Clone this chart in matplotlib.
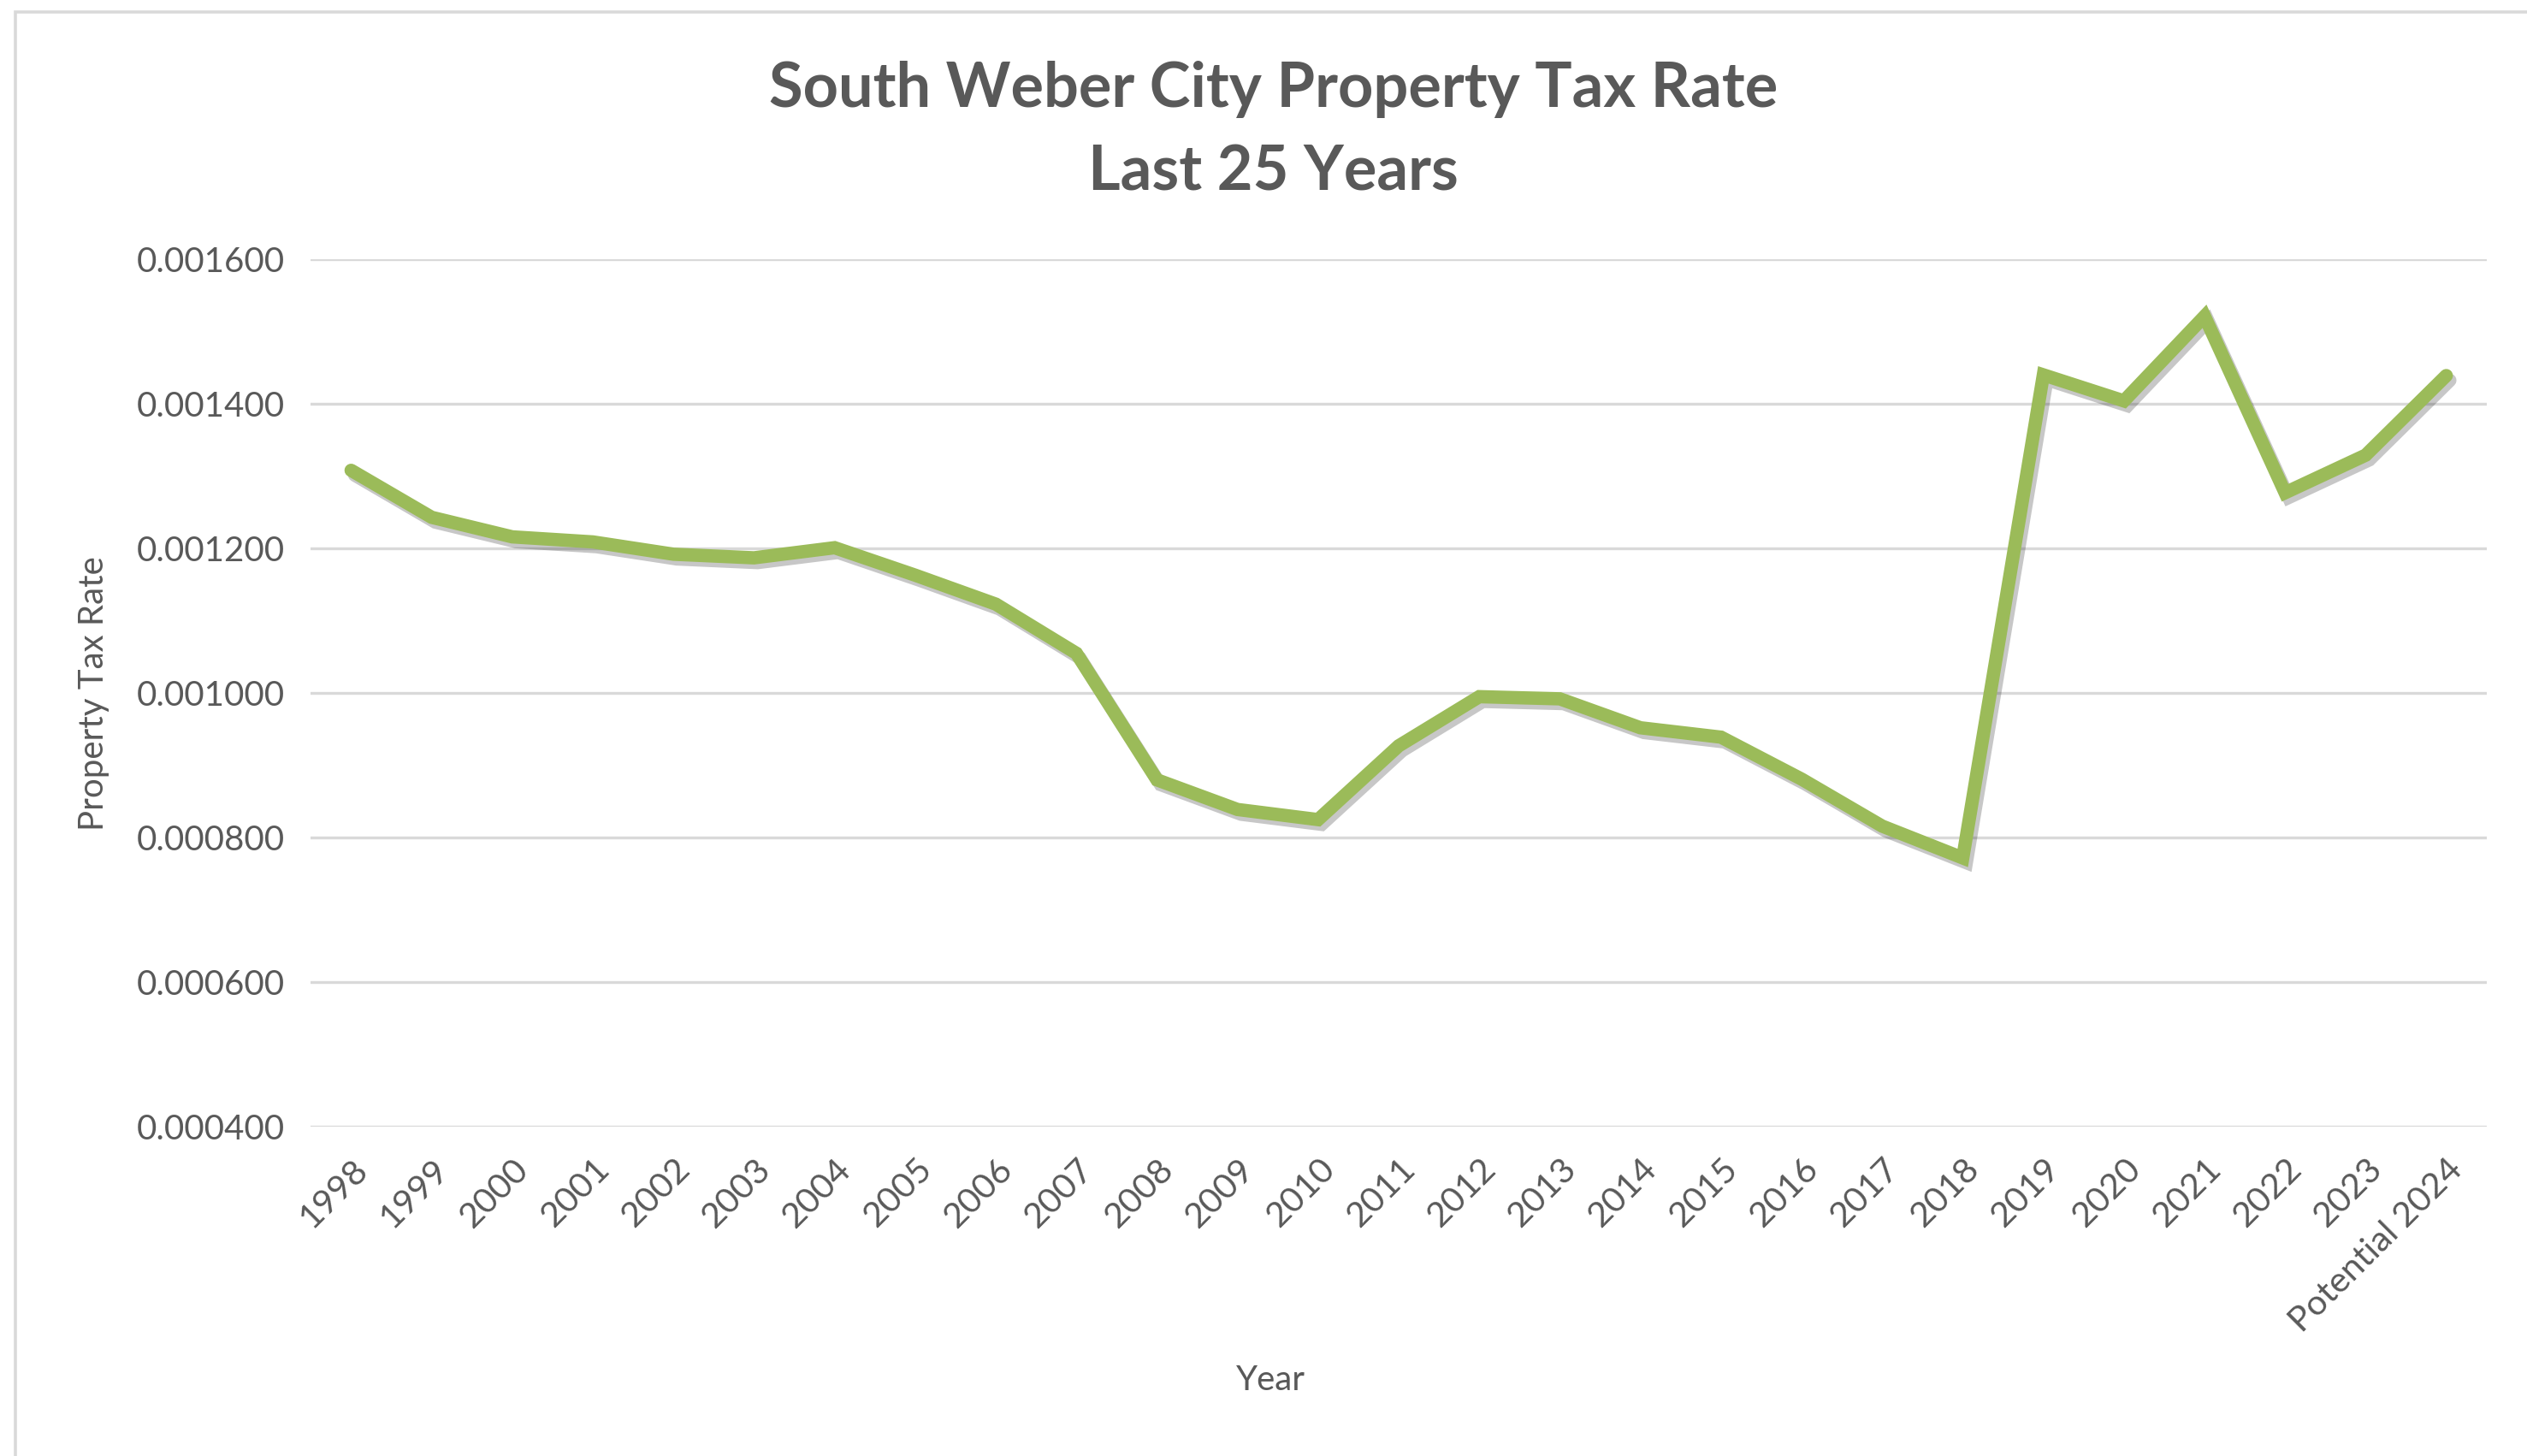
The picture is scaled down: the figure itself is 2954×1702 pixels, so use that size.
import numpy as np
import matplotlib.pyplot as plt
import matplotlib.patheffects as pe
from matplotlib.patches import Rectangle

# Data
years = ["1998", "1999", "2000", "2001", "2002", "2003", "2004", "2005", "2006",
         "2007", "2008", "2009", "2010", "2011", "2012", "2013", "2014", "2015",
         "2016", "2017", "2018", "2019", "2020", "2021", "2022", "2023",
         "Potential 2024"]
rates = [0.001308, 0.001243, 0.001216, 0.001209, 0.001192, 0.001187, 0.001201,
         0.001163, 0.001123, 0.001055, 0.000880, 0.000839, 0.000825, 0.000927,
         0.000995, 0.000992, 0.000952, 0.000939, 0.000881, 0.000816, 0.000772,
         0.001440, 0.001404, 0.001521, 0.001277, 0.001329, 0.001439]
yticks = [0.0004, 0.0006, 0.0008, 0.0010, 0.0012, 0.0014, 0.0016]

plt.rcParams['font.family'] = ['Lato', 'DejaVu Sans']
grey = "#595959"

fig = plt.figure(figsize=(14.77, 8.51), dpi=200)
fig.patches.append(Rectangle((0.006, -0.05), 1.2, 1.042, transform=fig.transFigure,
                             fill=False, edgecolor="#D9D9D9", linewidth=1.3))

ax = fig.add_axes([0.123, 0.226, 0.861, 0.596])
x = np.arange(len(years))
ax.plot(x, rates, color="#9BBB59", linewidth=5.6, solid_capstyle="round",
        solid_joinstyle="miter",
        path_effects=[pe.SimpleLineShadow(offset=(1.5, -2), shadow_color="black", alpha=0.22),
                      pe.Normal()])

ax.set_xlim(-0.5, len(years) - 0.5)
ax.set_ylim(0.0004, 0.0016)
ax.set_yticks(yticks)
ax.set_yticklabels([f"{v:.6f}" for v in yticks], fontsize=14.5, color=grey)
ax.set_xticks(x)
ax.set_xticklabels(years, rotation=45, ha="right", va="top", rotation_mode="anchor",
                   fontsize=14.8, color=grey)
ax.tick_params(axis="both", length=0)
ax.tick_params(axis="y", pad=11)
ax.tick_params(axis="x", pad=11)
ax.grid(axis="y", color="#D9D9D9", linewidth=1.2)
ax.set_axisbelow(True)
for s in ax.spines.values():
    s.set_visible(False)

fig.text(0.504, 0.910, "South Weber City Property Tax Rate\nLast 25 Years",
         ha="center", va="center", fontsize=26, fontweight="bold", color=grey,
         linespacing=1.55)
fig.text(0.037, 0.524, "Property Tax Rate", rotation=90, ha="center", va="center",
         fontsize=14.5, color=grey)
fig.text(0.503, 0.052, "Year", ha="center", va="center", fontsize=14.5, color=grey)

fig.savefig("out.png", dpi=200, facecolor="white")
